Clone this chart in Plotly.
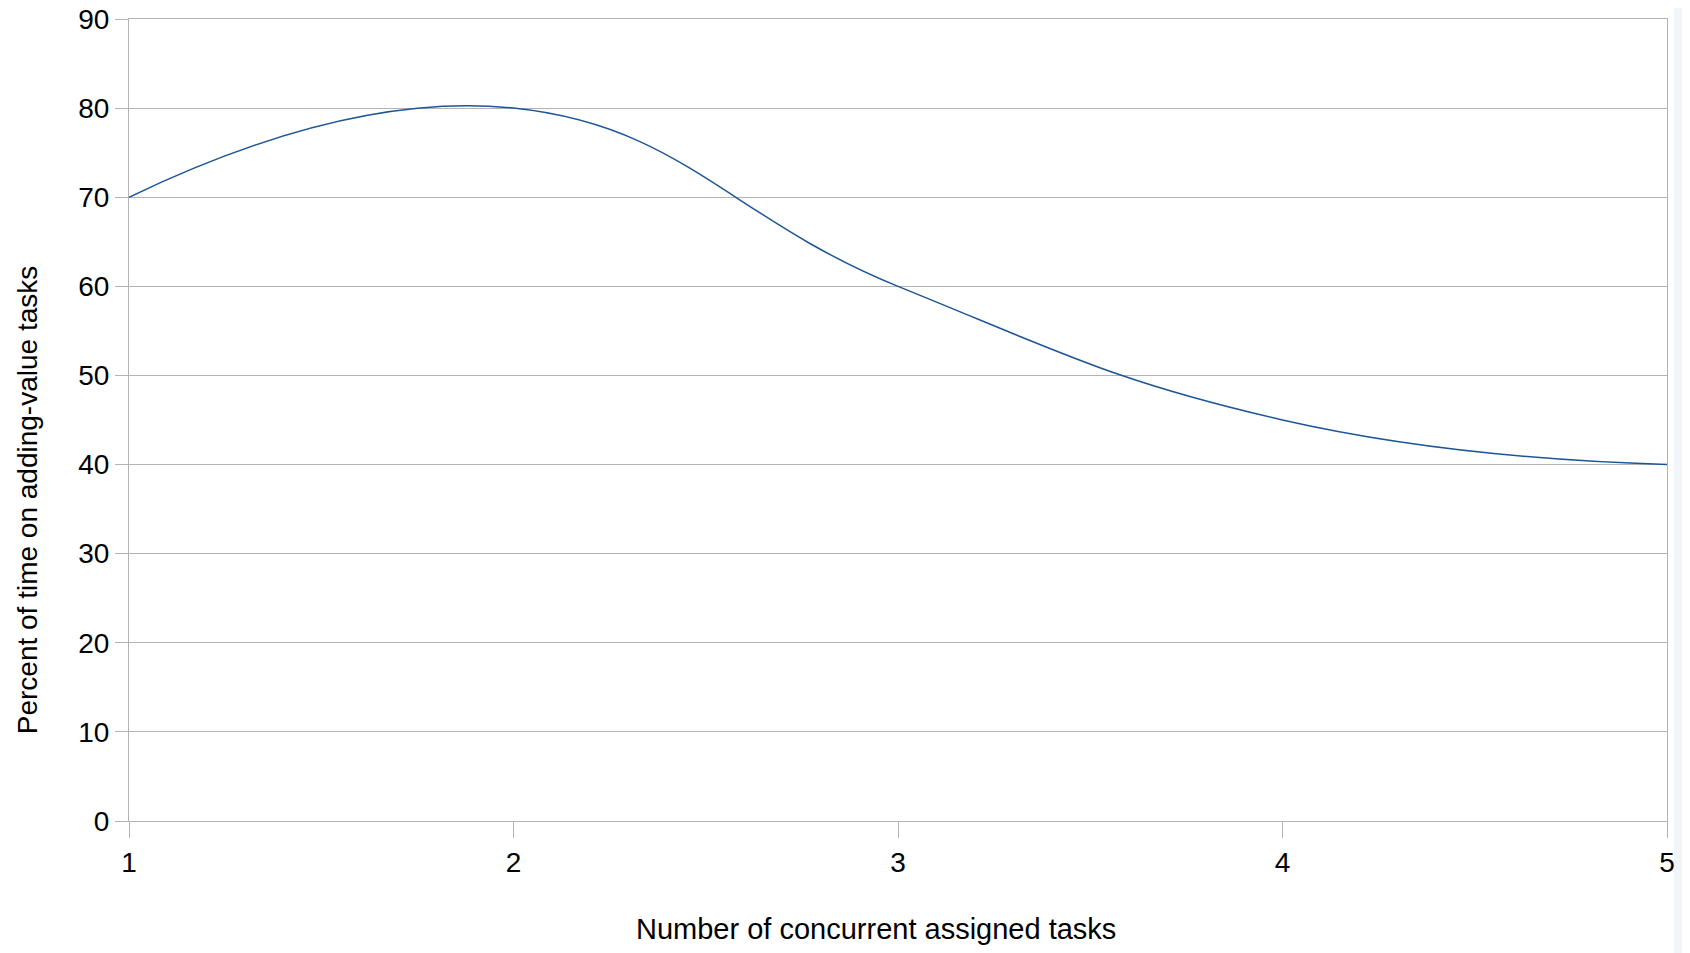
import plotly.graph_objects as go

tasks = [1, 2, 3, 4, 5]
percent_time = [70, 80, 60, 45, 40]
x_ticks = [1, 2, 3, 4, 5]
y_ticks = [0, 10, 20, 30, 40, 50, 60, 70, 80, 90]
x_title = "Number of concurrent assigned tasks"
y_title = "Percent of time on adding-value tasks"

FONT = "Liberation Sans Narrow, Arial Narrow, Liberation Sans, Arial, sans-serif"
GRID = "#b3b3b3"

fig = go.Figure()
fig.add_trace(go.Scatter(
    x=tasks, y=percent_time, mode="lines",
    line=dict(color="#1c5696", width=1.5, shape="spline", smoothing=1.3),
    showlegend=False, hoverinfo="x+y",
))

fig.update_layout(
    width=1682, height=945,
    margin=dict(l=121, r=23, t=11, b=132, autoexpand=False),
    paper_bgcolor="white", plot_bgcolor="white",
    font=dict(family=FONT, size=28, color="black"),
    xaxis=dict(
        range=[1, 5], tickvals=x_ticks, ticktext=[str(v) for v in x_ticks],
        showgrid=False, zeroline=False, automargin=False,
        showline=True, linecolor=GRID, linewidth=1, mirror=True,
        ticks="outside", ticklen=16, tickcolor=GRID, tickwidth=1,
        tickfont=dict(family=FONT, size=28), ticklabeloverflow="allow",
    ),
    yaxis=dict(
        range=[0, 90], tickvals=y_ticks, ticktext=[str(v) for v in y_ticks],
        showgrid=True, gridcolor=GRID, gridwidth=1, zeroline=False, automargin=False,
        showline=True, linecolor=GRID, linewidth=1, mirror=True,
        ticks="outside", ticklen=13, tickcolor=GRID, tickwidth=1,
        tickfont=dict(family=FONT, size=28), ticklabeloverflow="allow",
    ),
    annotations=[
        dict(text=x_title, xref="paper", yref="paper", x=0.4854, y=-0.1345,
             xanchor="center", yanchor="middle", showarrow=False,
             font=dict(family=FONT, size=29, color="black")),
        dict(text=y_title, xref="paper", yref="paper", x=-0.0663, y=0.400,
             xanchor="center", yanchor="middle", showarrow=False, textangle=-90,
             font=dict(family=FONT, size=28, color="black")),
    ],
    shapes=[
        dict(type="rect", xref="paper", yref="paper", x0=1.0045, x1=1.03,
             y0=-0.2, y1=1.03, fillcolor="#f1f4f9", line=dict(width=0), layer="below"),
    ],
)

fig.write_html("out.html")
